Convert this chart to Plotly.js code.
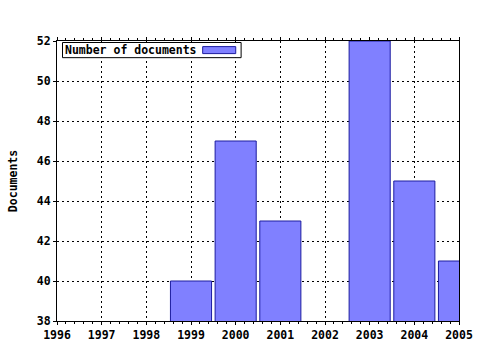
<!DOCTYPE html>
<html>
<head>
<meta charset="utf-8">
<script src="https://cdn.plot.ly/plotly-3.0.1.min.js"></script>
<style>html,body{margin:0;padding:0;background:#fff;}#chart{width:480px;height:350px;}</style>
</head>
<body>
<div id="chart"></div>
<script>
const years = [1999, 2000, 2001, 2003, 2004, 2005];
const documents = [40, 47, 43, 52, 45, 41];
const xTicks = [1996, 1997, 1998, 1999, 2000, 2001, 2002, 2003, 2004, 2005];
const yTicks = [38, 40, 42, 44, 46, 48, 50, 52];
const seriesName = 'Number of documents';

const fam = '"DejaVu Sans Mono", monospace';
const fsize = 11.5;
const fillColor = '#8080ff';
const edgeColor = '#1c1ca0';

const trace = {
  type: 'bar',
  x: years,
  y: documents,
  width: 0.92,
  name: seriesName,
  marker: {color: fillColor, line: {color: edgeColor, width: 1}},
  showlegend: false,
  hoverinfo: 'x+y'
};

const layout = {
  width: 480, height: 350,
  margin: {l: 57, r: 21, t: 41, b: 29},
  paper_bgcolor: '#fff', plot_bgcolor: '#fff',
  font: {family: fam, size: fsize, color: '#000'},
  xaxis: {
    range: [1996, 2005], tickvals: xTicks, ticktext: xTicks.map(String),
    tickfont: {family: fam, size: fsize, weight: 'bold'},
    showgrid: true, gridcolor: '#000', griddash: '2px,3px', gridwidth: 1,
    showline: true, linecolor: '#000', linewidth: 1, mirror: 'ticks',
    ticks: 'outside', ticklen: 3, tickcolor: '#000',
    minor: {dtick: 0.2, ticks: 'outside', ticklen: 2, tickcolor: '#000', showgrid: false},
    zeroline: false, fixedrange: true
  },
  yaxis: {
    range: [38, 52], tickvals: yTicks, ticktext: yTicks.map(String),
    tickfont: {family: fam, size: fsize, weight: 'bold'},
    showgrid: true, gridcolor: '#000', griddash: '2px,3px', gridwidth: 1,
    showline: true, linecolor: '#000', linewidth: 1, mirror: true,
    ticks: 'outside', ticklen: 3, tickcolor: '#000',
    title: {text: 'Documents', font: {family: fam, size: fsize, weight: 'bold'}, standoff: 16},
    zeroline: false, fixedrange: true
  },
  bargap: 0,
  shapes: [{
    type: 'rect', xref: 'paper', yref: 'paper',
    x0: 0.0137, x1: 0.458, y0: 0.9405, y1: 0.9946,
    fillcolor: '#fff', line: {color: '#000', width: 1}, layer: 'above'
  }, {
    type: 'rect', xref: 'paper', yref: 'paper',
    x0: 0.3624, x1: 0.4446, y0: 0.955, y1: 0.980,
    fillcolor: fillColor, line: {color: edgeColor, width: 1}, layer: 'above'
  }],
  annotations: [{
    xref: 'paper', yref: 'paper', x: 0.0145, y: 0.9675,
    xanchor: 'left', yanchor: 'middle', align: 'left',
    text: seriesName, showarrow: false,
    font: {family: fam, size: fsize, weight: 'bold', color: '#000'}
  }]
};

Plotly.newPlot('chart', [trace], layout, {displayModeBar: false, staticPlot: true});
</script>
</body>
</html>
